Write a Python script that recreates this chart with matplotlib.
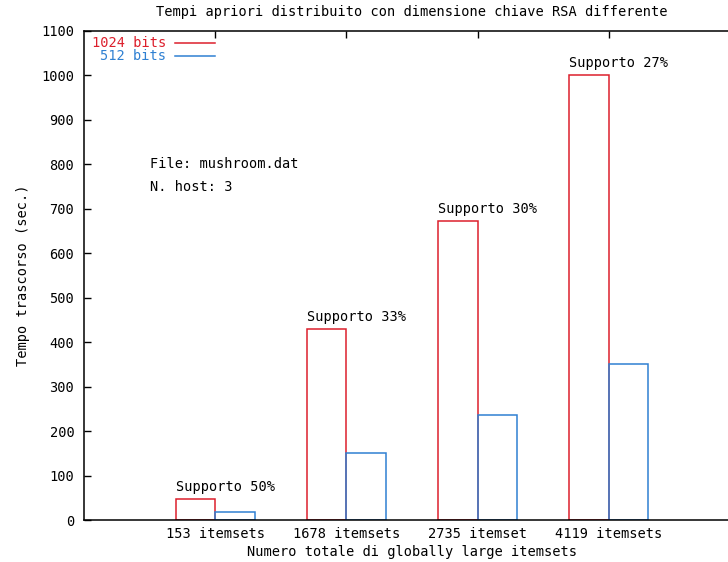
import matplotlib
matplotlib.use("Agg")
import matplotlib.pyplot as plt
from matplotlib.lines import Line2D

categories = ["153 itemsets", "1678 itemsets", "2735 itemset", "4119 itemsets"]
bits_1024 = [47, 430, 673, 1001]
bits_512 = [18, 151, 236, 351]
supports = ["Supporto 50%", "Supporto 33%", "Supporto 30%", "Supporto 27%"]
yticks = [0, 100, 200, 300, 400, 500, 600, 700, 800, 900, 1000, 1100]

RED = "#dc1f2c"
BLUE = "#2f80d2"
FONT = "DejaVu Sans Mono"
FS = 9.8

W, H = 728, 562
fig = plt.figure(figsize=(W / 100, H / 100), dpi=100)
fig.patch.set_facecolor("white")

def fx(x):
    return x / W

def fy(y):
    return 1 - y / H

ax = fig.add_axes([fx(84), fy(520), fx(740) - fx(84), fy(31) - fy(520)])
ax.set_xlim(-1, 4)
ax.set_ylim(0, 1100)

bw = 0.3
xs = list(range(len(categories)))
ax.bar([x - bw / 2 for x in xs], bits_1024, width=bw, facecolor="none",
       edgecolor=RED, linewidth=1.1)
ax.bar([x + bw / 2 for x in xs], bits_512, width=bw, facecolor="none",
       edgecolor=BLUE, linewidth=1.1)

for x, v, s in zip(xs, bits_1024, supports):
    ax.annotate(s, xy=(x - bw, v), xytext=(0, 8.5), textcoords="offset points",
                ha="left", va="center", fontsize=FS, family=FONT, color="black")

ax.text(-0.5, 800, "File: mushroom.dat", ha="left", va="center",
        fontsize=FS, family=FONT)
ax.text(-0.5, 750, "N. host: 3", ha="left", va="center",
        fontsize=FS, family=FONT)

ax.set_xticks(xs)
ax.set_xticklabels(categories, fontsize=FS, family=FONT)
ax.set_yticks(yticks)
ax.set_yticklabels([str(t) for t in yticks], fontsize=FS, family=FONT)
ax.tick_params(axis="both", direction="in", length=5, width=1, color="black",
               top=True, bottom=False, left=True, right=True)
ax.tick_params(axis="x", pad=5)
ax.tick_params(axis="y", pad=7)
for sp in ax.spines.values():
    sp.set_linewidth(1.1)
    sp.set_color("black")

ax.set_xlabel("Numero totale di globally large itemsets", fontsize=FS,
              family=FONT, labelpad=3)
ax.set_ylabel("Tempo trascorso (sec.)", fontsize=FS, family=FONT, labelpad=8)
ax.set_title("Tempi apriori distribuito con dimensione chiave RSA differente",
             fontsize=FS, family=FONT, pad=11)

# legend (manual, gnuplot style)
fig.text(fx(166), fy(43), "1024 bits", ha="right", va="center",
         fontsize=FS, family=FONT, color=RED)
fig.text(fx(166), fy(56), "512 bits", ha="right", va="center",
         fontsize=FS, family=FONT, color=BLUE)
fig.add_artist(Line2D([fx(175), fx(215)], [fy(43), fy(43)], color=RED,
                      linewidth=1.1, transform=fig.transFigure))
fig.add_artist(Line2D([fx(175), fx(215)], [fy(56), fy(56)], color=BLUE,
                      linewidth=1.1, transform=fig.transFigure))

fig.savefig("out.png", dpi=100, facecolor="white")
